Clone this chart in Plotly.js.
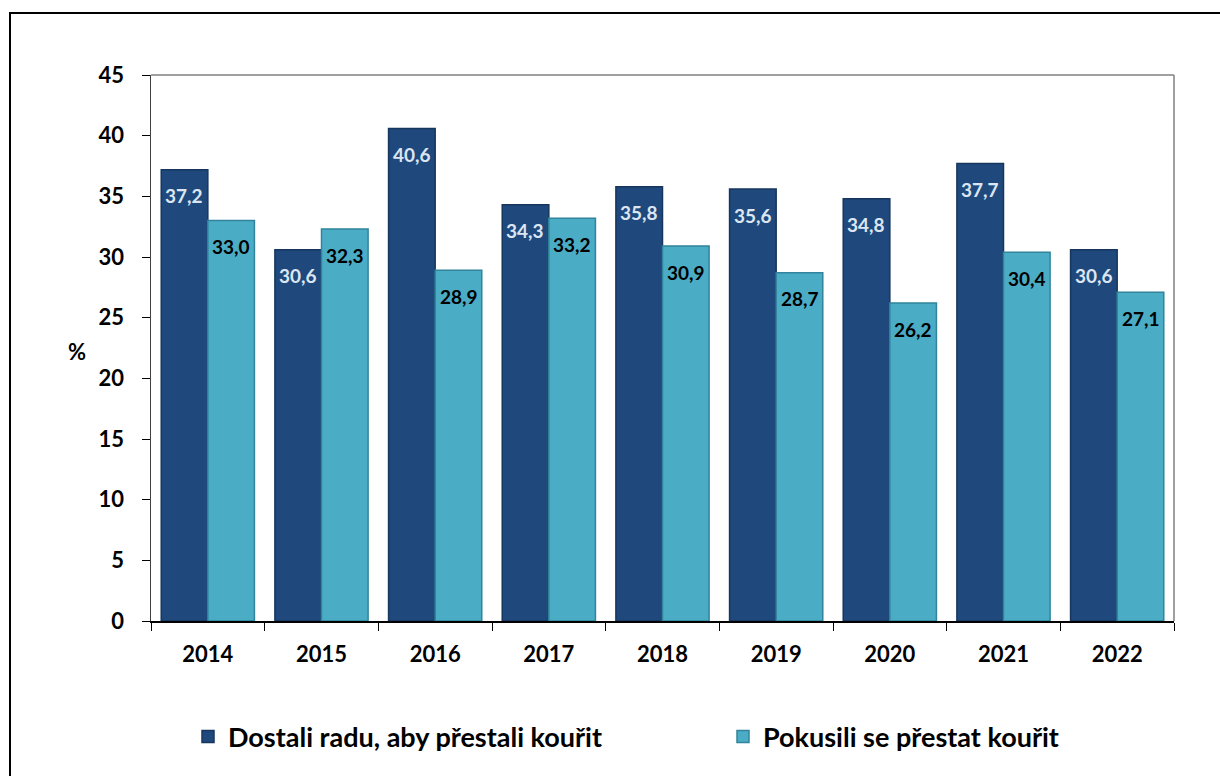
<!DOCTYPE html>
<html>
<head>
<meta charset="utf-8">
<script src="https://cdn.plot.ly/plotly-3.0.1.min.js"></script>
<style>
html,body{margin:0;padding:0;background:#fff;}
#chart{width:1220px;height:776px;}
</style>
</head>
<body>
<div id="chart"></div>
<script>
const years = ["2014","2015","2016","2017","2018","2019","2020","2021","2022"];
const seriesNames = ["Dostali radu, aby přestali kouřit", "Pokusili se přestat kouřit"];
const dostaliRadu = [37.2, 30.6, 40.6, 34.3, 35.8, 35.6, 34.8, 37.7, 30.6];
const pokusiliSe = [33.0, 32.3, 28.9, 33.2, 30.9, 28.7, 26.2, 30.4, 27.1];
const yTicks = [0,5,10,15,20,25,30,35,40,45];

const FONT = "Lato, 'Open Sans', sans-serif";
const darkCol = "#1F497D", lightCol = "#4BACC6";

const traces = [
  {type:"bar", name:seriesNames[0], x:years, y:dostaliRadu, legend:"legend",
   marker:{color:darkCol, line:{color:"#17365D", width:1.5}}, hoverinfo:"skip"},
  {type:"bar", name:seriesNames[1], x:years, y:pokusiliSe, legend:"legend2",
   marker:{color:lightCol, line:{color:"#31849B", width:1.5}}, hoverinfo:"skip"}
];

const fmt = v => v.toFixed(1).replace(".", ",");
const annotations = [];
years.forEach((yr, i) => {
  annotations.push({x:i, y:dostaliRadu[i], xref:"x", yref:"y", text:fmt(dostaliRadu[i]),
    showarrow:false, xshift:-23.5, yshift:-26, yanchor:"middle",
    font:{family:FONT, size:19, weight:"bold", color:"#DCE6F2"}});
  annotations.push({x:i, y:pokusiliSe[i], xref:"x", yref:"y", text:fmt(pokusiliSe[i]),
    showarrow:false, xshift:23.5, yshift:-26, yanchor:"middle",
    font:{family:FONT, size:19, weight:"bold", color:"#000000"}});
});
annotations.push({xref:"paper", yref:"paper", x:(77-151)/1023, y:(621-351)/546,
  text:"%", showarrow:false, xanchor:"center", yanchor:"middle",
  font:{family:FONT, size:22, weight:"bold", color:"#000"}});

const legendBase = {orientation:"h", xref:"container", yref:"container", xanchor:"left",
  y:(776-737)/776, yanchor:"middle", itemwidth:30,
  font:{family:FONT, size:27, weight:"bold", color:"#000"}, bgcolor:"rgba(0,0,0,0)"};

const layout = {
  width:1220, height:776,
  margin:{l:151, r:46, t:75, b:155},
  paper_bgcolor:"#ffffff", plot_bgcolor:"#ffffff",
  barmode:"group", bargap:0.18, bargroupgap:0,
  font:{family:FONT, color:"#000"},
  xaxis:{type:"category", range:[-0.5, years.length-0.5], autorange:false, automargin:false,
    tickson:"boundaries", ticks:"outside", ticklen:8, tickcolor:"#000",
    tickwidth:1, showline:true, linecolor:"#000", linewidth:1.5, showgrid:false,
    tickfont:{family:FONT, size:22, weight:"bold", color:"#000"}, ticklabelstandoff:13},
  yaxis:{range:[0,45], autorange:false, automargin:false, tickvals:yTicks, ticks:"outside", ticklen:8, tickcolor:"#000",
    tickwidth:1, showline:true, linecolor:"#404040", linewidth:1.5, showgrid:false, zeroline:false,
    tickfont:{family:FONT, size:22, weight:"bold", color:"#000"}, ticklabelstandoff:13},
  showlegend:true,
  legend:Object.assign({}, legendBase, {x:188/1220}),
  legend2:Object.assign({}, legendBase, {x:723/1220}),
  shapes:[
    {type:"line", xref:"paper", yref:"paper", x0:0, x1:1, y0:1, y1:1, line:{color:"#808080", width:1.5}},
    {type:"line", xref:"paper", yref:"paper", x0:1, x1:1, y0:0, y1:1, line:{color:"#808080", width:1.5}},
    {type:"rect", xref:"paper", yref:"paper", x0:(10-151)/1023, x1:1.2, y0:-0.4, y1:(621-13)/546,
      line:{color:"#000", width:2}, fillcolor:"rgba(0,0,0,0)"}
  ],
  annotations:annotations
};

Plotly.newPlot("chart", traces, layout, {staticPlot:true, displayModeBar:false});
</script>
</body>
</html>
